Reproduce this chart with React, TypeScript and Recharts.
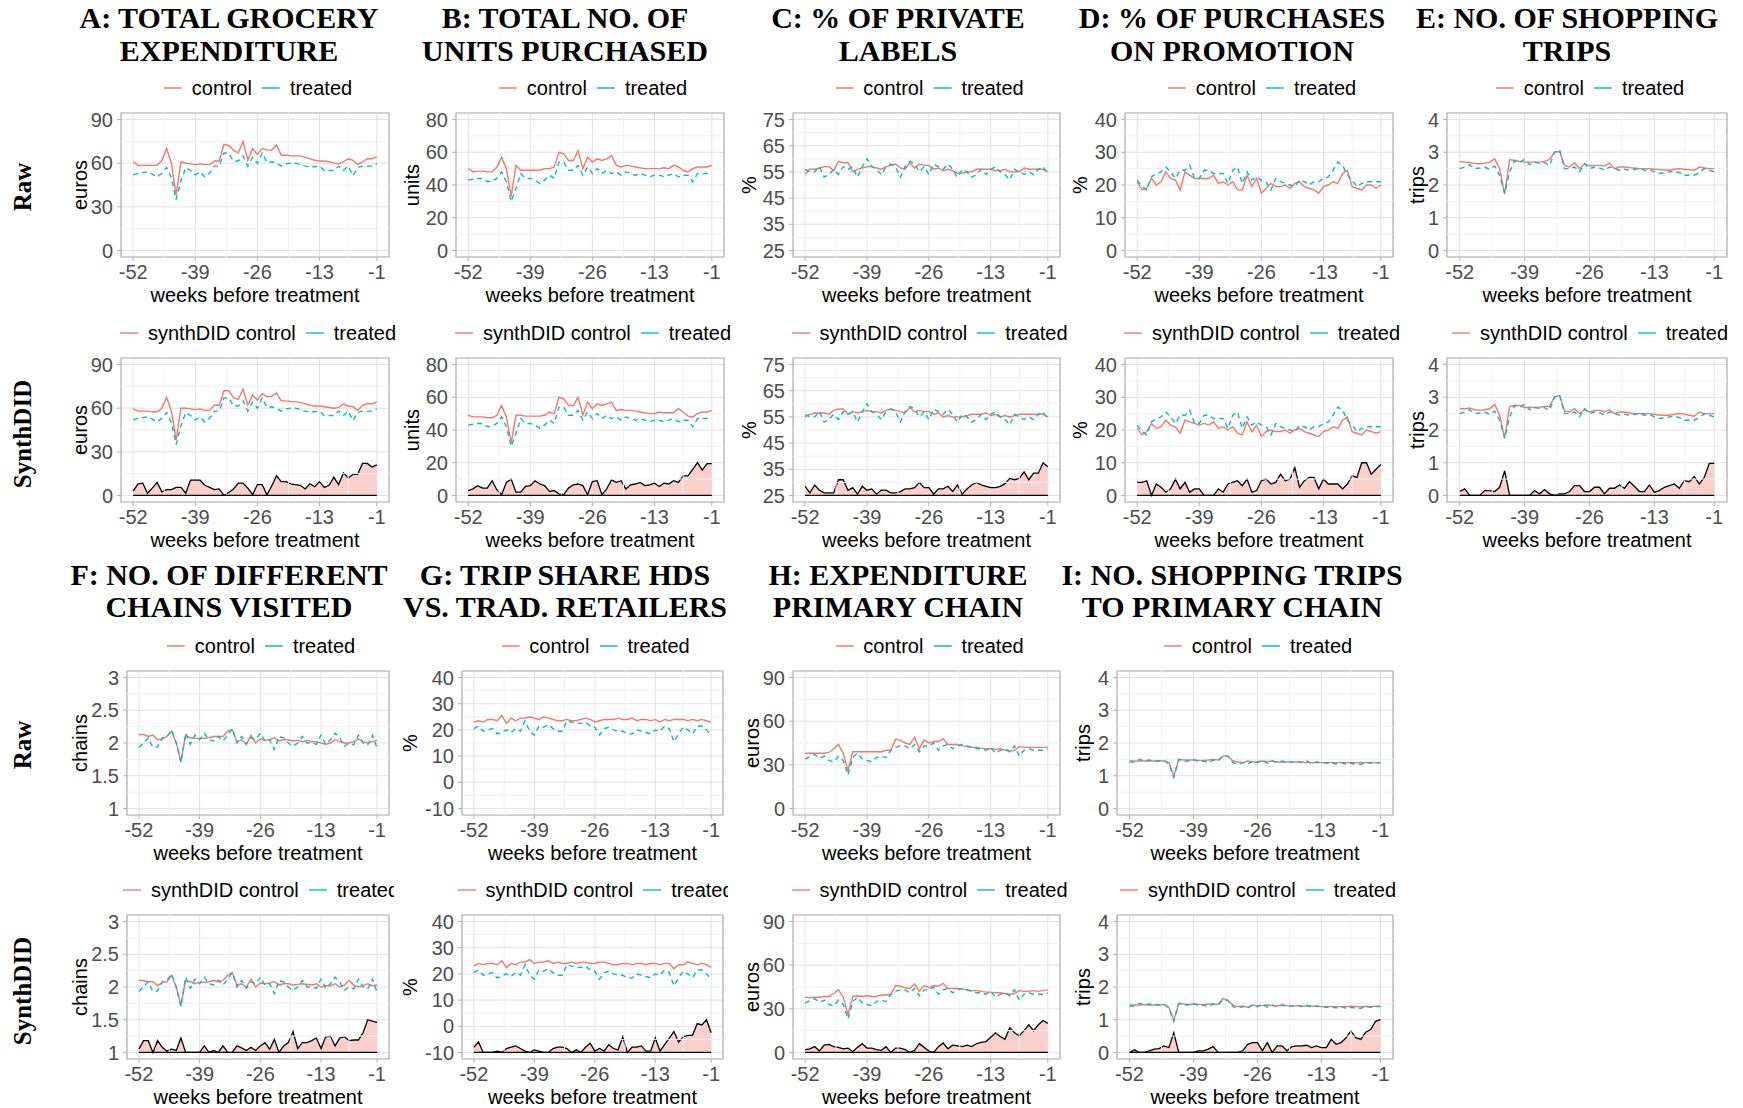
import React from "react";
import {
  Area,
  CartesianGrid,
  ComposedChart,
  Line,
  ReferenceArea,
  ReferenceLine,
  XAxis,
  YAxis,
} from "recharts";

const SANS = "'Liberation Sans', Arial, sans-serif";
const SERIF = "'Liberation Serif', 'Times New Roman', serif";
const RED = "#F8766D";
const TEAL = "#00BFC4";

// weeks before treatment
const WEEKS = [
  -52, -51, -50, -49, -48, -47, -46, -45, -44, -43, -42, -41, -40,
  -39, -38, -37, -36, -35, -34, -33, -32, -31, -30, -29, -28, -27,
  -26, -25, -24, -23, -22, -21, -20, -19, -18, -17, -16, -15, -14,
  -13, -12, -11, -10, -9, -8, -7, -6, -5, -4, -3, -2, -1,
];
const X_TICKS = [-52, -39, -26, -13, -1];
const X_MINOR = [-45.5, -32.5, -19.5, -7];

// A: total grocery expenditure
const A_CONTROL = [
  61, 58.5, 58.5, 58.5, 58.5, 58.5, 62, 70, 60, 38, 61, 60, 59.5,
  59, 59.5, 59, 59, 61.5, 61.5, 73, 72, 69, 67, 75, 62, 70,
  66, 70, 69, 69, 72.5, 65.5, 65.5, 65, 65, 65, 64, 63, 62,
  61.5, 61.5, 61, 60, 59.5, 61, 63, 62, 59, 61, 63, 63, 64.5,
];
const A_TREATED = [
  52, 53, 53.5, 54, 52.5, 50.5, 53, 57, 50, 35, 48, 57, 55,
  52, 54, 50.5, 53, 58, 58, 67, 67, 61.5, 61.5, 65, 58, 64,
  60, 67, 60.5, 61, 60, 58, 59.5, 60, 60, 59, 58, 57.5, 57.5,
  58, 55, 55, 55, 58, 55, 58, 51.5, 57, 58, 58, 58, 59.5,
];
const A_SYNTH = [
  59.5, 58, 58, 58, 57.5, 57.5, 60, 67.5, 58, 38, 60, 60, 59.5,
  59, 59.5, 58.5, 58.5, 62, 62, 72, 72, 67, 66, 73, 62, 69,
  65.5, 70, 68, 68, 70.5, 65, 65, 64.5, 64.5, 64, 63, 62, 61.5,
  61.5, 61, 60.5, 60, 60.5, 63, 61.5, 61, 58.5, 62, 63, 63, 64.5,
];
const A_WEIGHTS = [
  3, 8, 8.5, 1.5, 5, 9, 2.5, 4, 4, 5.5, 5.5, 1.5, 10.5,
  10.5, 10.5, 7, 5.5, 4, 4.5, 0, 2, 4.5, 8.5, 8.5, 5, 0.5,
  7.5, 7.5, 0.5, 6.5, 13.5, 9.5, 9.5, 8, 7.5, 7, 4.5, 8, 6,
  9.5, 5.5, 7, 12.5, 7.5, 15.5, 12, 14.5, 14.5, 22, 22, 19.5, 21,
];

// B: total no. of units purchased
const B_CONTROL = [
  50, 48, 48.5, 48.5, 48, 48, 51, 57, 50, 33, 52, 49, 49,
  49, 49, 49, 50, 50, 51, 60, 59, 55, 55, 61, 50, 57,
  54, 56, 55, 56, 58, 52, 51, 52, 51.5, 51, 50.5, 50, 50,
  50, 50, 50.5, 50, 52, 51, 49, 48, 50, 51, 51, 51, 52,
];
const B_TREATED = [
  43, 43.5, 44, 44, 42, 42.5, 44, 48, 42, 30, 38, 47, 44,
  44, 43, 41, 43, 46, 44, 54, 54, 49, 49, 52, 46, 51,
  47, 50, 47, 49, 47, 48, 46, 48, 47, 46, 47, 46, 45,
  46, 46, 45, 46, 47, 45, 46, 46, 42, 47, 47, 47, 47,
];
const B_SYNTH = [
  49, 48, 48, 48, 47.5, 47.5, 49, 55, 48, 32, 49, 49, 48.5,
  48.5, 48.5, 48.5, 49, 51, 50, 60, 59, 55, 55, 60, 49, 57,
  53, 56, 55, 56, 57, 52, 52.5, 52, 52, 51.5, 51, 50.5, 50,
  50, 51, 50.5, 50.5, 50.5, 53, 51, 48.5, 48, 50, 51, 51, 52,
];
const B_WEIGHTS = [
  3, 4, 6, 4.5, 4.5, 9, 3.5, 0.5, 8, 10, 2, 2, 5.5,
  6, 9, 7, 6, 2.5, 3, 1, 0.5, 4.5, 6.5, 7, 6, 0.5,
  8.5, 9, 0.5, 4, 9.5, 8, 9, 4, 6.5, 7, 8, 6, 6.5,
  7.5, 5.5, 7.5, 7, 9, 8, 12, 12, 16, 20, 15.5, 19.5, 19.5,
];

// C: % of private labels
const C_CONTROL = [
  54, 56, 56, 56.5, 57, 57, 55.5, 59, 58.5, 58.5, 55, 56, 56.5,
  57, 57, 56.5, 56, 57, 57.5, 58, 56.5, 56, 58.5, 56.5, 58, 57.5,
  57.5, 56, 56.5, 55.5, 56, 55.5, 54.5, 54.5, 55, 55, 56, 56, 56,
  56, 55.5, 55.5, 56, 55, 55, 55, 56.5, 56, 56, 56, 56, 55,
];
const C_TREATED = [
  56, 55, 55, 57, 53, 54, 56, 54, 57, 56, 57, 53, 57,
  60, 57, 56, 54, 57, 58, 57, 53, 57, 59, 58, 55, 57,
  54, 58, 57, 56, 58, 56, 53, 56, 55, 53, 54, 56, 54,
  56, 57, 55, 54, 52, 56, 55, 54, 55, 54, 56, 57, 54,
];
const C_SYNTH = [
  55, 56, 56.5, 56.5, 56.5, 56, 57.5, 58, 58, 56, 57, 56.5, 57,
  57.5, 57, 57, 56.5, 57.5, 58, 57.5, 57, 56.5, 58.5, 57, 57.5, 57,
  57, 56, 56.5, 55, 55.5, 55, 55, 55, 55.5, 56, 56, 56, 56.5,
  55.5, 56, 55, 55.5, 55, 55.5, 56, 56, 56, 56, 56, 56, 55,
];
const C_WEIGHTS = [
  28.5, 26, 29, 27, 26, 26, 26, 31, 31, 27, 28, 25.5, 28.5,
  27, 27.5, 25.5, 27, 27, 26, 26, 26.5, 27.5, 27.5, 28, 30, 28,
  28, 25.5, 27.5, 27.5, 28.5, 26.5, 29, 25.5, 27.5, 29, 30, 29, 28.5,
  28, 28, 28.5, 29.5, 31.5, 31, 31.5, 34, 31, 33.5, 33.5, 37.5, 36,
];

// D: % of purchases on promotion
const D_CONTROL = [
  21, 18.5, 19, 22, 20, 21, 24, 22, 21.5, 18.5, 24, 23, 22,
  22, 22, 22, 23, 20.5, 21, 20, 21, 18.5, 18.5, 23, 19.5, 22,
  17.5, 19, 20.5, 19.5, 19.5, 20, 19, 20.5, 21, 19.5, 19, 18.5, 17.5,
  19.5, 20, 21, 20.5, 23.5, 24.5, 19.5, 19, 18.5, 20, 20, 19, 20,
];
const D_TREATED = [
  21.5, 19.5, 18.5, 22.5, 23.5, 24, 25.5, 24, 22, 24.5, 24.5, 26, 22,
  22, 24.5, 24.5, 23.5, 23.5, 23.5, 20.5, 24.5, 25.5, 20.5, 24, 21.5, 22.5,
  21.5, 21, 18.5, 22, 21, 20.5, 20, 19.5, 21.5, 21, 20, 21, 21,
  22, 22.5, 24.5, 27, 26, 23, 21.5, 19.5, 20.5, 21, 21, 21, 21,
];
const D_SYNTH = [
  20.5, 18.5, 19.5, 22, 20.5, 21, 23, 21.5, 21, 19, 23, 22.5, 22,
  21.5, 22, 21.5, 22.5, 20.5, 21, 20, 21, 19, 18.5, 22.5, 19.5, 21.5,
  18, 19.5, 20, 19.5, 19.5, 20, 19, 20, 20.5, 19.5, 19, 18.5, 18,
  19.5, 20, 21, 20.5, 23, 24, 19.5, 19, 18.5, 20, 19.5, 19, 19.5,
];
const D_WEIGHTS = [
  4, 4, 4.5, 0, 3.5, 2.5, 1, 2, 5, 2, 4, 1, 2,
  2, 0, 0, 0, 2, 1, 3.5, 4, 4.5, 3, 5, 1, 1.5,
  4.5, 5, 3.5, 4, 6.5, 4.5, 5, 8.5, 2.5, 4.5, 5.5, 5.5, 2,
  5, 3.5, 3.5, 3.5, 2, 3.5, 6, 5.5, 10, 10, 6.5, 8, 9.5,
];

// E: no. of shopping trips
const E_CONTROL = [
  2.72, 2.7, 2.68, 2.66, 2.65, 2.67, 2.7, 2.8, 2.5, 1.72, 2.78, 2.75, 2.72,
  2.7, 2.7, 2.7, 2.7, 2.72, 2.78, 3.0, 3.02, 2.6, 2.55, 2.68, 2.5, 2.65,
  2.58, 2.6, 2.6, 2.58, 2.67, 2.5, 2.55, 2.55, 2.53, 2.52, 2.5, 2.5, 2.5,
  2.48, 2.47, 2.46, 2.45, 2.48, 2.5, 2.48, 2.47, 2.45, 2.55, 2.52, 2.5, 2.5,
];
const E_TREATED = [
  2.5, 2.55, 2.62, 2.5, 2.52, 2.55, 2.48, 2.58, 2.3, 1.75, 2.4, 2.75, 2.7,
  2.78, 2.62, 2.7, 2.65, 2.68, 2.6, 3.0, 3.08, 2.5, 2.5, 2.55, 2.4, 2.65,
  2.5, 2.55, 2.52, 2.45, 2.55, 2.5, 2.45, 2.48, 2.45, 2.48, 2.5, 2.45, 2.48,
  2.4, 2.35, 2.38, 2.4, 2.42, 2.38, 2.3, 2.3, 2.3, 2.38, 2.5, 2.45, 2.4,
];
const E_SYNTH = [
  2.65, 2.65, 2.67, 2.62, 2.6, 2.62, 2.65, 2.78, 2.45, 1.75, 2.72, 2.75, 2.75,
  2.68, 2.7, 2.68, 2.7, 2.72, 2.72, 3.02, 3.05, 2.58, 2.55, 2.65, 2.5, 2.62,
  2.55, 2.6, 2.6, 2.55, 2.62, 2.5, 2.55, 2.55, 2.52, 2.5, 2.5, 2.5, 2.5,
  2.48, 2.45, 2.45, 2.45, 2.48, 2.5, 2.48, 2.45, 2.42, 2.55, 2.5, 2.5, 2.5,
];
const E_WEIGHTS = [
  0.12, 0.2, 0, 0, 0, 0.15, 0.15, 0.12, 0.25, 0.75, 0, 0, 0,
  0, 0, 0.15, 0.05, 0.18, 0.05, 0, 0.05, 0.05, 0.12, 0.3, 0.3, 0.12,
  0.12, 0.25, 0.25, 0.05, 0.22, 0.22, 0.32, 0.22, 0.42, 0.28, 0.12, 0.12, 0.32,
  0.1, 0.15, 0.25, 0.3, 0.35, 0.22, 0.45, 0.42, 0.58, 0.35, 0.55, 0.98, 0.98,
];

// F: no. of different chains visited
const F_CONTROL = [
  2.13, 2.13, 2.1, 2.12, 2.05, 2.06, 2.1, 2.18, 2.0, 1.72, 2.12, 2.08, 2.07,
  2.07, 2.07, 2.08, 2.1, 2.1, 2.1, 2.18, 2.2, 2.02, 2.05, 1.98, 2.12, 2.0,
  2.06, 2.04, 2.05, 2.08, 2.03, 2.05, 2.05, 2.03, 2.04, 2.02, 2.04, 2.02, 2.02,
  2.0, 1.98, 2.0, 2.05, 2.02, 2.0, 2.0, 2.02, 2.06, 2.02, 2.0, 2.02, 2.04,
];
const F_TREATED = [
  1.93, 2.0, 2.08, 1.93, 1.94, 2.08, 2.1, 2.2, 2.0, 1.7, 2.15, 1.98, 2.12,
  2.05, 2.15, 2.05, 2.03, 2.1, 2.03, 2.12, 2.22, 2.0, 2.1, 1.98, 2.08, 2.05,
  2.15, 2.03, 2.05, 1.9, 2.1, 2.08, 2.0, 1.95, 2.0, 2.1, 2.0, 2.0, 1.98,
  2.12, 1.98, 2.05, 2.15, 2.08, 1.95, 2.0, 1.97, 2.12, 2.0, 1.97, 2.12, 1.92,
];
const F_SYNTH = [
  2.1, 2.1, 2.08, 2.08, 2.02, 2.07, 2.08, 2.18, 2.0, 1.72, 2.1, 2.08, 2.05,
  2.07, 2.07, 2.08, 2.1, 2.08, 2.1, 2.18, 2.22, 2.03, 2.05, 2.0, 2.12, 2.0,
  2.06, 2.05, 2.06, 2.08, 2.03, 2.05, 2.05, 2.03, 2.04, 2.05, 2.04, 2.03, 2.05,
  2.0, 2.02, 2.02, 2.05, 2.0, 2.03, 2.1, 2.03, 2.0, 2.02, 2.05, 2.02, 2.03,
];
const F_WEIGHTS = [
  1.05, 1.18, 1.18, 1.0, 1.18, 1.08, 1.02, 1.05, 1.03, 1.22, 1.0, 1.0, 1.0,
  1.0, 1.1, 1.0, 1.03, 1.0, 1.1, 1.0, 1.0, 1.1, 1.07, 1.03, 1.08, 1.03,
  1.1, 1.15, 1.05, 1.2, 1.0, 1.1, 1.15, 1.32, 1.06, 1.15, 1.15, 1.18, 1.22,
  1.06, 1.24, 1.25, 1.1, 1.22, 1.24, 1.18, 1.19, 1.19, 1.3, 1.5, 1.48, 1.46,
];

// G: trip share HDS vs. traditional retailers
const G_CONTROL = [
  23, 23.5, 23, 24, 24, 23.5, 25.5, 22.5, 24.5, 23.5, 24.5, 24.5, 25,
  24.5, 24, 25, 24.5, 24, 23.5, 23.5, 24, 23.5, 23.5, 24, 24.5, 24,
  23, 23.5, 24, 24, 24, 24.5, 24, 24, 24.5, 23.5, 24, 24, 23.5,
  24, 23, 24, 23.5, 24, 24, 24, 23.5, 24, 23.5, 24, 23.5, 23,
];
const G_TREATED = [
  20.5, 21.5, 19.5, 20, 20.5, 18.5, 19, 20, 19, 20.5, 19.5, 23.5, 19.5,
  18, 21.5, 21, 22, 20.5, 19.5, 19.5, 23.5, 23, 22.5, 22.5, 23, 21.5,
  21, 18, 20.5, 21, 20, 19.5, 19.5, 18.5, 18.5, 20, 19.5, 19, 18.5,
  20, 19.5, 21.5, 20.5, 15.5, 18.5, 21, 20, 18.5, 21.5, 21.5, 20, 18,
];
const G_SYNTH = [
  23, 24, 23.5, 24, 24, 23.5, 25, 22.5, 24, 23.5, 24.5, 24.5, 25.5,
  24, 24.5, 24.5, 25, 24, 24.5, 24, 24, 24.5, 24, 24.5, 24.5, 24,
  24, 24.5, 24.5, 24, 23.5, 23.5, 24, 24, 23.5, 24, 24, 23.5, 24,
  24, 23.5, 24, 24, 22, 23.5, 23.5, 24.5, 24, 23.5, 24, 23.5, 22.5,
];
const G_WEIGHTS = [
  -8, -6, -10, -10, -10, -9.5, -10, -8.5, -8, -7.5, -8.5, -9.5, -10,
  -9, -9.5, -10, -10, -8.5, -8, -8, -8.5, -10, -9, -10, -8, -6.5,
  -9.5, -8.5, -9.5, -7, -8.5, -9, -4, -10, -8, -8, -7.5, -9.5, -9.5,
  -4.5, -9.5, -7, -4.5, -2, -6, -4, -3.5, -3.5, 1, 0.5, 2.5, -2.5,
];

// H: expenditure primary chain
const H_CONTROL = [
  38, 38, 38, 38, 38, 38.5, 41, 44, 38, 26, 39, 39, 39,
  39, 39, 39, 39, 40, 40, 47.5, 47, 45, 44, 49, 41, 47,
  45, 46, 46, 48, 44, 44, 44, 43, 42.5, 42, 42, 41.5, 41,
  41, 40.5, 41, 40, 39.5, 40, 42.5, 42, 42, 42, 42, 42, 42,
];
const H_TREATED = [
  34, 35.5, 37, 34.5, 36, 33, 32, 36, 33, 23, 35, 38, 34,
  33, 32, 35, 36, 35, 40, 42, 43, 43, 41, 44, 39, 43,
  43, 45, 40, 43, 44, 41, 43, 44, 43, 42, 41, 41, 40,
  42, 38, 40, 41, 39, 43, 36, 40, 41, 40, 40, 40, 41,
];
const H_SYNTH = [
  38, 37.5, 38, 38, 38.5, 38.5, 40.5, 43, 38, 26, 38.5, 39, 38.5,
  39, 38.5, 38.5, 39.5, 39.5, 40, 46, 45.5, 44.5, 44, 47, 42, 46,
  44.5, 46, 45.5, 47.5, 44, 44, 44, 43.5, 43, 42.5, 42.5, 42, 41.5,
  41.5, 41, 41, 40.5, 40, 40.5, 42.5, 42, 42, 42.5, 42, 42.5, 43,
];
const H_WEIGHTS = [
  2, 2.5, 4, 1, 5, 5.5, 4, 3.5, 2.5, 3, 0.5, 3.5, 6,
  3, 3, 2, 1.5, 4, 0, 3, 3, 2, 0, 1.5, 6, 3.5,
  1, 0, 4, 6.5, 2.5, 5, 4.5, 4, 5, 4, 6, 7, 7.5,
  10.5, 13.5, 11, 9, 17, 13.5, 11.5, 15, 19, 15, 19, 22, 20,
];

// I: no. shopping trips to primary chain
const I_CONTROL = [
  1.45, 1.45, 1.45, 1.45, 1.45, 1.45, 1.45, 1.45, 1.4, 0.98, 1.5, 1.48, 1.48,
  1.48, 1.47, 1.47, 1.48, 1.5, 1.48, 1.6, 1.6, 1.45, 1.42, 1.4, 1.45, 1.42,
  1.42, 1.45, 1.43, 1.45, 1.42, 1.42, 1.42, 1.42, 1.42, 1.42, 1.4, 1.4, 1.4,
  1.4, 1.4, 1.4, 1.4, 1.4, 1.4, 1.4, 1.4, 1.4, 1.4, 1.4, 1.4, 1.38,
];
const I_TREATED = [
  1.42, 1.42, 1.5, 1.45, 1.48, 1.45, 1.45, 1.48, 1.35, 0.95, 1.5, 1.45, 1.45,
  1.5, 1.43, 1.45, 1.4, 1.48, 1.45, 1.62, 1.6, 1.4, 1.35, 1.4, 1.35, 1.45,
  1.4, 1.48, 1.38, 1.45, 1.4, 1.45, 1.4, 1.42, 1.45, 1.4, 1.45, 1.38, 1.42,
  1.4, 1.38, 1.4, 1.36, 1.4, 1.35, 1.38, 1.35, 1.35, 1.4, 1.38, 1.4, 1.4,
];
const I_SYNTH = [
  1.45, 1.45, 1.45, 1.46, 1.45, 1.45, 1.45, 1.46, 1.38, 0.98, 1.5, 1.48, 1.47,
  1.48, 1.47, 1.46, 1.48, 1.48, 1.47, 1.65, 1.58, 1.45, 1.4, 1.42, 1.38, 1.45,
  1.42, 1.43, 1.45, 1.43, 1.42, 1.45, 1.43, 1.42, 1.43, 1.42, 1.42, 1.42, 1.41,
  1.4, 1.4, 1.4, 1.4, 1.4, 1.4, 1.41, 1.4, 1.4, 1.41, 1.4, 1.41, 1.42,
];
const I_WEIGHTS = [
  0, 0.08, 0, 0, 0.05, 0.1, 0.12, 0.2, 0.15, 0.6, 0, 0, 0,
  0, 0.05, 0.05, 0.1, 0.18, 0, 0, 0, 0, 0, 0.05, 0.25, 0.3,
  0.3, 0.05, 0.3, 0, 0.2, 0.2, 0.05, 0.18, 0.2, 0.2, 0.22, 0.15, 0.2,
  0.15, 0.15, 0.4, 0.25, 0.3, 0.45, 0.65, 0.45, 0.4, 0.62, 0.7, 0.95, 1.0,
];

const PANELS = [
  { title: ["A: TOTAL GROCERY", "EXPENDITURE"], yLabel: "euros", yTicks: [0, 30, 60, 90], control: A_CONTROL, treated: A_TREATED, synth: A_SYNTH, weights: A_WEIGHTS },
  { title: ["B: TOTAL NO. OF", "UNITS PURCHASED"], yLabel: "units", yTicks: [0, 20, 40, 60, 80], control: B_CONTROL, treated: B_TREATED, synth: B_SYNTH, weights: B_WEIGHTS },
  { title: ["C: % OF PRIVATE", "LABELS"], yLabel: "%", yTicks: [25, 35, 45, 55, 65, 75], control: C_CONTROL, treated: C_TREATED, synth: C_SYNTH, weights: C_WEIGHTS },
  { title: ["D: % OF PURCHASES", "ON PROMOTION"], yLabel: "%", yTicks: [0, 10, 20, 30, 40], control: D_CONTROL, treated: D_TREATED, synth: D_SYNTH, weights: D_WEIGHTS },
  { title: ["E: NO. OF SHOPPING", "TRIPS"], yLabel: "trips", yTicks: [0, 1, 2, 3, 4], control: E_CONTROL, treated: E_TREATED, synth: E_SYNTH, weights: E_WEIGHTS },
  { title: ["F: NO. OF DIFFERENT", "CHAINS VISITED"], yLabel: "chains", yTicks: [1, 1.5, 2, 2.5, 3], control: F_CONTROL, treated: F_TREATED, synth: F_SYNTH, weights: F_WEIGHTS },
  { title: ["G: TRIP SHARE HDS", "VS. TRAD. RETAILERS"], yLabel: "%", yTicks: [-10, 0, 10, 20, 30, 40], control: G_CONTROL, treated: G_TREATED, synth: G_SYNTH, weights: G_WEIGHTS },
  { title: ["H: EXPENDITURE", "PRIMARY CHAIN"], yLabel: "euros", yTicks: [0, 30, 60, 90], control: H_CONTROL, treated: H_TREATED, synth: H_SYNTH, weights: H_WEIGHTS },
  { title: ["I: NO. SHOPPING TRIPS", "TO PRIMARY CHAIN"], yLabel: "trips", yTicks: [0, 1, 2, 3, 4], control: I_CONTROL, treated: I_TREATED, synth: I_SYNTH, weights: I_WEIGHTS },
];

// page layout (pixels)
const BLOCKS = [
  { titleY: [16, 49], rawTop: 113, synthTop: 358 },
  { titleY: [573, 605], rawTop: 671, synthTop: 915 },
];
const LAYOUT = [
  { block: 0, center: 229, left: 121, right: 389, ylab: 80 },
  { block: 0, center: 565, left: 456, right: 724, ylab: 412 },
  { block: 0, center: 898, left: 793, right: 1060, ylab: 749 },
  { block: 0, center: 1232, left: 1125, right: 1393, ylab: 1080 },
  { block: 0, center: 1567, left: 1447, right: 1727, ylab: 1417 },
  { block: 1, center: 229, left: 127, right: 389, ylab: 80, clip: 394 },
  { block: 1, center: 565, left: 462, right: 723, ylab: 410, clip: 728 },
  { block: 1, center: 898, left: 793, right: 1060, ylab: 752 },
  { block: 1, center: 1232, left: 1117, right: 1393, ylab: 1083 },
];
const PLOT_H = 144;
const YW = 60;
const XH = 40;
const TOPM = 12;

function Plot({ left, right, top, yTicks, rows, synth }: any) {
  const width = right - left;
  const lo = yTicks[0];
  const hi = yTicks[yTicks.length - 1];
  const pad = (hi - lo) * 0.05;
  const yDomain = [lo - pad, hi + pad];
  const xDomain = [-54.55, 1.55];
  const yMinor = yTicks.slice(1).map((t: number, i: number) => (t + yTicks[i]) / 2);
  const tick = { fontSize: 20, fill: "#4D4D4D", fontFamily: SANS };
  return (
    <div style={{ position: "absolute", left: left - YW, top: top - TOPM }}>
      <ComposedChart
        width={YW + width + 2}
        height={PLOT_H + TOPM + XH}
        data={rows}
        margin={{ top: TOPM, right: 2, left: 0, bottom: 0 }}
      >
        {yMinor.map((v: number) => (
          <ReferenceLine key={"my" + v} y={v} stroke="#F2F2F2" strokeWidth={1} />
        ))}
        {X_MINOR.map((v) => (
          <ReferenceLine key={"mx" + v} x={v} stroke="#F2F2F2" strokeWidth={1} />
        ))}
        <CartesianGrid stroke="#E2E2E2" strokeWidth={1} />
        <XAxis
          dataKey="week"
          type="number"
          domain={xDomain}
          ticks={X_TICKS}
          interval={0}
          height={XH}
          axisLine={false}
          tickLine={{ stroke: "#B3B3B3" }}
          tickSize={4}
          tickMargin={4}
          tick={tick}
        />
        <YAxis
          type="number"
          domain={yDomain}
          ticks={yTicks}
          interval={0}
          width={YW}
          axisLine={false}
          tickLine={{ stroke: "#B3B3B3" }}
          tickSize={4}
          tickMargin={4}
          tick={tick}
        />
        {synth && (
          <Area
            type="linear"
            dataKey="weight"
            baseValue={lo}
            stroke="#000000"
            strokeWidth={1.3}
            fill="#FBD0CC"
            fillOpacity={1}
            dot={false}
            activeDot={false}
            isAnimationActive={false}
          />
        )}
        {synth && (
          <ReferenceLine
            segment={[
              { x: -52, y: lo },
              { x: -1, y: lo },
            ]}
            stroke="#000000"
            strokeWidth={1.3}
          />
        )}
        <Line
          type="linear"
          dataKey="control"
          stroke={RED}
          strokeWidth={1.4}
          dot={false}
          activeDot={false}
          isAnimationActive={false}
        />
        <Line
          type="linear"
          dataKey="treated"
          stroke={TEAL}
          strokeWidth={1.4}
          strokeDasharray="5 4"
          dot={false}
          activeDot={false}
          isAnimationActive={false}
        />
        <ReferenceArea
          x1={xDomain[0]}
          x2={xDomain[1]}
          y1={yDomain[0]}
          y2={yDomain[1]}
          fill="none"
          fillOpacity={0}
          stroke="#B3B3B3"
          strokeWidth={1.2}
          ifOverflow="visible"
        />
      </ComposedChart>
    </div>
  );
}

function Key({ color }: { color: string }) {
  return (
    <svg width={18} height={4} style={{ display: "block" }}>
      <line x1={0} x2={18} y1={2} y2={2} stroke={color} strokeWidth={1.4} />
    </svg>
  );
}

function Legend({ cx, cy, label, clip }: any) {
  const half = 220;
  const boxLeft = cx - half;
  const boxRight = clip ?? cx + half;
  return (
    <div
      style={{
        position: "absolute",
        left: boxLeft,
        top: cy - 13,
        width: boxRight - boxLeft,
        height: 26,
        overflow: "hidden",
      }}
    >
      <div
        style={{
          position: "absolute",
          left: half,
          top: 3,
          transform: "translateX(-50%)",
          display: "flex",
          alignItems: "center",
          whiteSpace: "nowrap",
          fontFamily: SANS,
          fontSize: 20,
          lineHeight: "20px",
          color: "#000",
        }}
      >
        <Key color={RED} />
        <span style={{ marginLeft: 10 }}>{label}</span>
        <span style={{ marginLeft: 10 }}>
          <Key color={TEAL} />
        </span>
        <span style={{ marginLeft: 10 }}>treated</span>
      </div>
    </div>
  );
}

function Rotated({ x, y, text, style }: any) {
  return (
    <div
      style={{
        position: "absolute",
        left: x,
        top: y,
        transform: "translate(-50%, -50%) rotate(-90deg)",
        whiteSpace: "nowrap",
        lineHeight: 1,
        ...style,
      }}
    >
      {text}
    </div>
  );
}

function Centered({ x, y, text, style }: any) {
  return (
    <div
      style={{
        position: "absolute",
        left: x,
        top: y,
        transform: "translate(-50%, -50%)",
        whiteSpace: "nowrap",
        lineHeight: 1,
        ...style,
      }}
    >
      {text}
    </div>
  );
}

export default function App() {
  const axisTitle = { fontFamily: SANS, fontSize: 20, color: "#000" };
  const rowTitle = { fontFamily: SERIF, fontSize: 25, fontWeight: 700, color: "#000" };
  return (
    <div
      style={{
        position: "absolute",
        left: 0,
        top: 0,
        width: 1743,
        height: 1108,
        background: "#fff",
        overflow: "hidden",
      }}
    >
      {BLOCKS.map((b, bi) => (
        <React.Fragment key={"rows" + bi}>
          <Rotated x={22} y={b.rawTop + PLOT_H / 2 + 2} text="Raw" style={rowTitle} />
          <Rotated x={22} y={b.synthTop + PLOT_H / 2 + 4} text="SynthDID" style={rowTitle} />
        </React.Fragment>
      ))}
      {PANELS.map((p, i) => {
        const L = LAYOUT[i];
        const b = BLOCKS[L.block];
        const pc = (L.left + L.right) / 2;
        const rawRows = WEEKS.map((w, k) => ({ week: w, control: p.control[k], treated: p.treated[k] }));
        const synthRows = WEEKS.map((w, k) => ({
          week: w,
          control: p.synth[k],
          treated: p.treated[k],
          weight: p.weights[k],
        }));
        return (
          <React.Fragment key={p.title[0]}>
            {p.title.map((t, ti) => (
              <Centered
                key={t}
                x={L.center}
                y={b.titleY[ti]}
                text={t}
                style={{ fontFamily: SERIF, fontWeight: 700, fontSize: 30, color: "#000", lineHeight: "30px", marginTop: 2 }}
              />
            ))}
            {[
              { top: b.rawTop, rows: rawRows, synth: false, label: "control" },
              { top: b.synthTop, rows: synthRows, synth: true, label: "synthDID control" },
            ].map((r) => (
              <React.Fragment key={p.title[0] + r.label}>
                <Legend
                  cx={pc + 3}
                  cy={r.top - 25}
                  label={r.label}
                  clip={r.synth ? (L as any).clip : undefined}
                />
                <Plot
                  left={L.left}
                  right={L.right}
                  top={r.top}
                  yTicks={p.yTicks}
                  rows={r.rows}
                  synth={r.synth}
                />
                <Rotated x={L.ylab} y={r.top + PLOT_H / 2} text={p.yLabel} style={axisTitle} />
                <Centered
                  x={pc}
                  y={r.top + PLOT_H + 38}
                  text="weeks before treatment"
                  style={axisTitle}
                />
              </React.Fragment>
            ))}
          </React.Fragment>
        );
      })}
    </div>
  );
}
